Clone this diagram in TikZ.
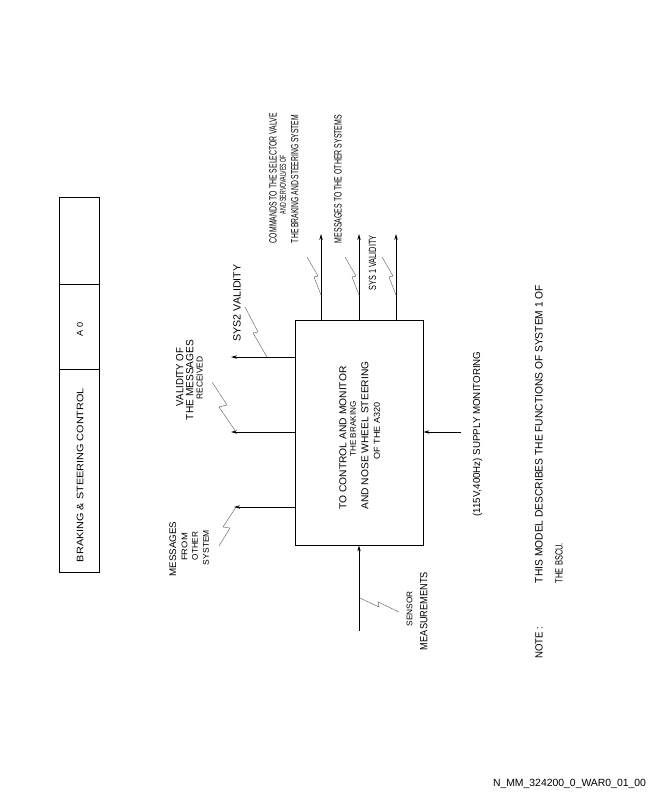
\documentclass[tikz,border=0pt]{standalone}
\usepackage{fontspec}
\usepackage{graphicx}
\setmainfont{Liberation Sans}
\usetikzlibrary{arrows.meta}
\newcommand\vlab[6]{\node[rt] (#1) at (#2,#3) {\resizebox{#4pt}{#5pt}{#6}};}
\begin{document}
\begin{tikzpicture}[x=1pt,y=-1pt,
  rt/.style={rotate=90,inner sep=0pt,font=\fontsize{10}{12}\selectfont},
  arr/.style={-{Stealth[length=6pt,width=3.4pt]},line width=0.7pt},
  bolt/.style={line width=0.4pt,draw=black!65},
  frame/.style={draw,line width=0.8pt}]
\useasboundingbox (0,0) rectangle (648,792);
% title block
\node[frame,minimum width=40pt,minimum height=375pt,inner sep=0pt] (tb) at (79,384.5) {};
\coordinate (d1) at (59,284);
\coordinate (d2) at (59,369);
\draw[line width=0.7pt] (d1) -- (tb.east |- d1);
\draw[line width=0.7pt] (d2) -- (tb.east |- d2);
\vlab{tbt}{80}{475}{174}{6.6}{BRAKING \& STEERING CONTROL}
\vlab{tbn}{80}{329}{14}{6}{A\hspace{3pt}0}
% main box
\node[frame,minimum width=128pt,minimum height=225pt,inner sep=0pt] (box) at (359,432.5) {};
\vlab{bx1}{343}{438}{143}{7}{TO CONTROL AND MONITOR}
\vlab{bx2}{353}{429}{55}{5.7}{THE BRAKING}
\vlab{bx3}{365}{435.5}{148}{7}{AND NOSE WHEEL STEERING}
\vlab{bx4}{377}{431}{57}{6}{OF THE A320}
% left arrows
\coordinate (l1) at (231,357);
\coordinate (l2) at (231,432);
\coordinate (l3) at (234,507);
\draw[arr] (box.west |- l1) -- (l1);
\draw[arr] (box.west |- l2) -- (l2);
\draw[arr] (box.west |- l3) -- (l3);
% top arrows
\coordinate (t1) at (321,234);
\coordinate (t2) at (359,234);
\coordinate (t3) at (396,234);
\draw[arr] (box.north -| t1) -- (t1);
\draw[arr] (box.north -| t2) -- (t2);
\draw[arr] (box.north -| t3) -- (t3);
% bottom input
\coordinate (b1) at (359,631);
\draw[arr] (b1) -- (box.south -| b1);
% right input
\coordinate (r1) at (461,432);
\draw[arr] (r1) -- (box.east |- r1);
% bolts
\draw[bolt] (245,307) -- (258,332) -- (253,333) -- (267,357);
\draw[bolt] (212,382) -- (227,405) -- (219,407) -- (236,432);
\draw[bolt] (219,546) -- (230,528) -- (223,527) -- (236,507);
\draw[bolt] (307,257) -- (318,276) -- (314,277) -- (321,295);
\draw[bolt] (345,257) -- (356,276) -- (352,277) -- (359,295);
\draw[bolt] (382,257) -- (393,276) -- (389,277) -- (396,295);
\draw[bolt] (360,598) -- (379,607) -- (378,602) -- (399,612);
% labels
\vlab{lv1}{179.7}{377}{58}{7.3}{VALIDITY OF}
\vlab{lv2}{189.7}{380}{80}{7.3}{THE MESSAGES}
\vlab{lv3}{199.7}{378}{43}{6}{RECEIVED}
\vlab{ls2}{237}{303}{77}{7.3}{SYS2 VALIDITY}
\vlab{lc1}{273}{178}{130}{7.3}{COMMANDS TO THE SELECTOR VALVE}
\vlab{lc2}{283}{184.5}{59}{6}{AND SERVOVALVES OF}
\vlab{lc3}{294.7}{179}{128}{7.3}{THE BRAKING AND STEERING SYSTEM}
\vlab{lm}{338}{179}{128}{7.3}{MESSAGES TO THE OTHER SYSTEMS}
\vlab{ls1}{372.5}{263}{55}{7.3}{SYS 1 VALIDITY}
\vlab{lf1}{172.7}{549}{55}{6.7}{MESSAGES}
\vlab{lf2}{184.5}{547}{27.7}{5.7}{FROM}
\vlab{lf3}{195}{546}{28.7}{5.8}{OTHER}
\vlab{lf4}{206}{547.5}{35}{5.8}{SYSTEM}
\vlab{lse}{409.5}{609}{35}{5.7}{SENSOR}
\vlab{lme}{423.7}{611}{78}{7.3}{MEASUREMENTS}
\vlab{lp}{477.5}{434}{165}{7.3}{(115V,400Hz) SUPPLY MONITORING}
\vlab{note}{539}{642.5}{32}{7.3}{NOTE :}
\vlab{n1}{539}{434}{298}{7.5}{THIS MODEL DESCRIBES THE FUNCTIONS OF SYSTEM 1 OF}
\vlab{n2}{559}{563}{40}{7.3}{THE BSCU.}
\node[inner sep=0pt,font=\fontsize{10}{12}\selectfont] (ref) at (569.5,783.7) {\resizebox{153pt}{7.3pt}{N\_MM\_324200\_0\_WAR0\_01\_00}};
\end{tikzpicture}
\end{document}
